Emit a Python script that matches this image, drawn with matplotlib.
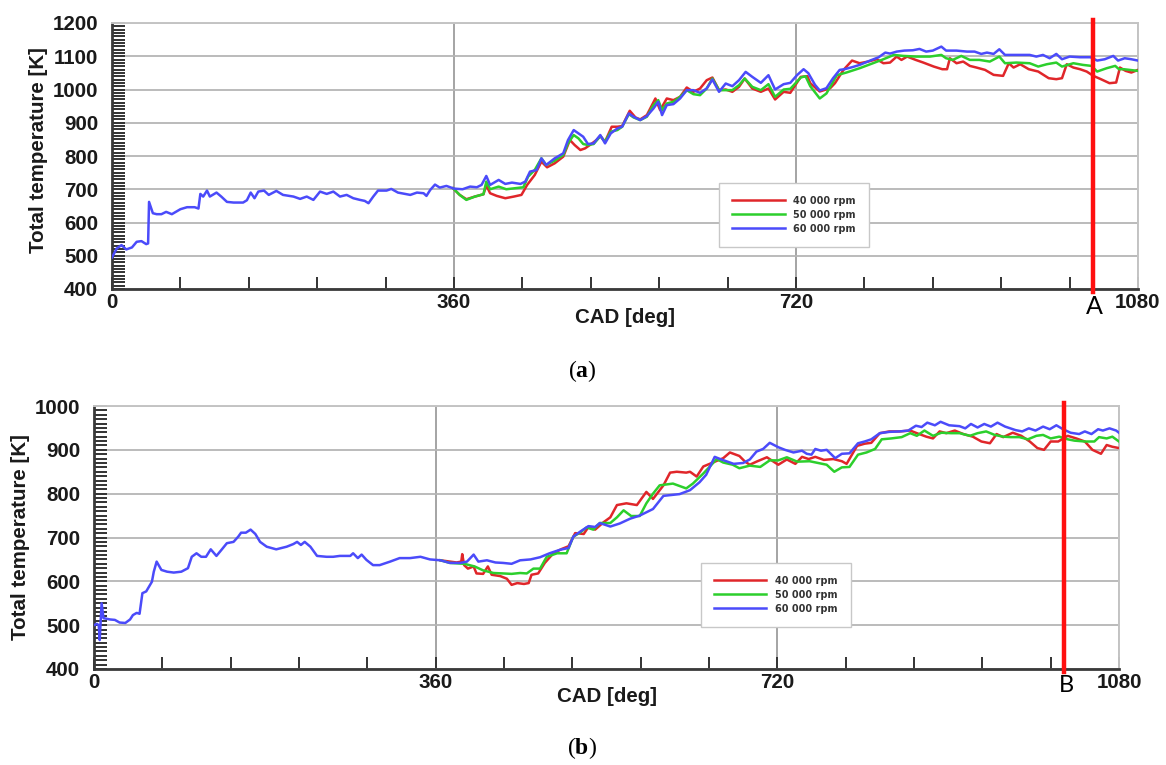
import matplotlib
matplotlib.use("Agg")
import matplotlib.pyplot as plt
from matplotlib.ticker import MultipleLocator, FixedLocator

plt.rcParams['mathtext.fontset'] = 'custom'
plt.rcParams['mathtext.rm'] = 'Liberation Serif'
plt.rcParams['mathtext.bf'] = 'Liberation Serif:bold'

# ---------------- data: panel (a) ----------------
a_blue_cad = [0, 5, 10, 15, 21, 26, 31, 36, 38, 39, 43, 47, 52, 57, 63, 72, 79, 87, 91, 93,
              96, 100, 103, 110, 115, 121, 128, 138, 142, 146, 150, 154, 160, 165, 173, 180,
              191, 198, 205, 212, 219, 226, 233, 240, 247, 254, 261, 266, 270, 275, 280, 289,
              294, 301, 310, 314, 321, 328, 331, 335, 340, 345, 352, 360, 369, 377, 384, 389,
              394, 398, 407, 414, 421, 430, 435, 440, 447, 452, 457, 466, 475, 480, 486, 491,
              496, 501, 507, 514, 519, 525, 532, 537, 544, 549, 556, 563, 570, 575, 579, 584,
              591, 598, 605, 612, 619, 626, 632, 639, 646, 653, 660, 667, 674, 683, 691, 698,
              707, 714, 721, 728, 733, 740, 745, 752, 759, 766, 771, 779, 787, 798, 807, 814,
              819, 826, 834, 843, 850, 857, 864, 873, 878, 889, 900, 908, 915, 921, 928, 934,
              940, 949, 959, 966, 973, 980, 987, 994, 1000, 1008, 1019, 1030, 1037, 1045, 1054,
              1059, 1066, 1073, 1080]
a_blue_temp = [495, 522, 532, 519, 525, 542, 544, 535, 537, 662, 628, 625, 625, 632, 625, 640,
               646, 646, 642, 686, 678, 696, 678, 690, 678, 662, 660, 660, 667, 690, 673, 693,
               696, 683, 695, 683, 678, 671, 678, 668, 693, 686, 693, 678, 683, 673, 668, 665,
               658, 678, 696, 696, 701, 690, 685, 683, 690, 688, 680, 698, 714, 705, 710, 702,
               700, 708, 706, 713, 740, 713, 728, 716, 720, 716, 723, 753, 758, 793, 773, 793,
               808, 848, 878, 868, 858, 836, 838, 863, 838, 868, 883, 888, 928, 918, 908, 920,
               943, 963, 923, 953, 956, 973, 998, 998, 990, 1003, 1030, 993, 1018, 1010, 1028,
               1053, 1038, 1020, 1043, 1000, 1016, 1020, 1043, 1061, 1049, 1014, 997, 1004, 1034,
               1059, 1061, 1067, 1074, 1087, 1097, 1111, 1108, 1114, 1117, 1118, 1122, 1114, 1117,
               1129, 1117, 1117, 1114, 1114, 1107, 1111, 1107, 1121, 1104, 1104, 1104, 1104, 1099,
               1104, 1094, 1107, 1091, 1099, 1097, 1097, 1087, 1091, 1101, 1087, 1094, 1091, 1087]

a_green_cad = [359, 366, 373, 382, 391, 394, 398, 407, 415, 424, 433, 438, 445, 452, 457, 466,
               475, 480, 486, 491, 496, 501, 507, 514, 519, 525, 532, 537, 544, 549, 556, 563,
               570, 575, 579, 584, 591, 598, 605, 612, 619, 626, 632, 639, 646, 653, 660, 666,
               674, 683, 691, 698, 707, 714, 725, 730, 735, 745, 752, 763, 773, 787, 801, 812,
               823, 833, 847, 861, 873, 878, 885, 894, 903, 913, 924, 934, 940, 952, 966, 975,
               984, 994, 1000, 1012, 1022, 1031, 1037, 1047, 1056, 1060, 1065, 1080]
a_green_temp = [703, 683, 668, 678, 685, 723, 700, 708, 700, 703, 706, 738, 758, 793, 773, 786,
                803, 838, 863, 853, 836, 833, 836, 860, 843, 873, 878, 888, 926, 916, 908, 918,
                953, 968, 938, 958, 963, 978, 998, 986, 983, 1003, 1033, 998, 998, 998, 1013, 1033,
                1008, 998, 1016, 978, 1000, 1002, 1036, 1040, 1010, 973, 988, 1043, 1051, 1064,
                1079, 1091, 1104, 1101, 1099, 1099, 1104, 1094, 1089, 1101, 1089, 1089, 1084, 1099,
                1079, 1081, 1079, 1069, 1076, 1081, 1069, 1079, 1074, 1071, 1054, 1064, 1071, 1061,
                1061, 1056]

a_red_cad = [359, 366, 373, 382, 391, 394, 398, 405, 414, 423, 431, 437, 445, 452, 458, 466,
             475, 482, 487, 493, 498, 503, 510, 514, 519, 526, 532, 537, 545, 551, 556, 563,
             572, 577, 584, 591, 598, 605, 612, 619, 626, 632, 639, 646, 653, 660, 666, 674,
             683, 691, 698, 707, 714, 725, 732, 735, 745, 756, 761, 770, 779, 787, 796, 805,
             812, 819, 826, 831, 837, 846, 854, 865, 874, 879, 882, 889, 896, 903, 910, 919,
             928, 938, 944, 949, 956, 965, 975, 986, 994, 1000, 1005, 1012, 1019, 1026, 1033,
             1041, 1050, 1057, 1061, 1067, 1073, 1080]
a_red_temp = [703, 683, 670, 678, 685, 712, 688, 680, 673, 678, 683, 713, 743, 783, 766, 778,
              798, 848, 833, 818, 823, 833, 848, 860, 843, 888, 888, 890, 936, 916, 910, 923,
              973, 938, 973, 968, 978, 1006, 993, 1003, 1028, 1036, 998, 1000, 993, 1008, 1033,
              1003, 993, 1003, 970, 993, 990, 1038, 1040, 1019, 994, 1004, 1019, 1059, 1087,
              1079, 1084, 1091, 1079, 1081, 1099, 1089, 1099, 1089, 1081, 1069, 1061, 1061, 1094,
              1079, 1084, 1071, 1066, 1059, 1044, 1041, 1079, 1066, 1076, 1061, 1054, 1034, 1031,
              1034, 1076, 1066, 1061, 1054, 1041, 1031, 1019, 1021, 1066, 1056, 1051, 1059]

# ---------------- data: panel (b) ----------------
b_blue_cad = [0, 3, 5, 6, 8, 10, 17, 22, 27, 33, 38, 41, 45, 48, 51, 55, 61, 63, 66, 71, 77,
              84, 92, 99, 103, 108, 113, 118, 123, 129, 134, 140, 147, 152, 155, 160, 165, 170,
              175, 182, 192, 203, 210, 214, 218, 222, 228, 235, 245, 252, 259, 270, 273, 278,
              282, 287, 294, 301, 312, 322, 333, 344, 354, 365, 375, 386, 393, 400, 405, 414,
              423, 431, 440, 449, 460, 470, 480, 491, 500, 505, 512, 521, 528, 533, 544, 554,
              565, 575, 589, 600, 617, 628, 638, 645, 654, 661, 674, 684, 691, 698, 705, 712,
              721, 728, 737, 746, 751, 756, 760, 766, 772, 781, 788, 796, 805, 812, 819, 828,
              838, 849, 858, 866, 872, 878, 886, 892, 901, 912, 918, 924, 931, 938, 945, 952,
              960, 971, 978, 985, 992, 1000, 1007, 1014, 1021, 1029, 1038, 1044, 1051, 1058,
              1063, 1070, 1077, 1080]
b_blue_temp = [500, 503, 500, 466, 550, 516, 513, 512, 506, 505, 513, 523, 528, 526, 573, 577,
               599, 622, 645, 626, 622, 620, 622, 630, 656, 664, 656, 656, 673, 658, 671, 687,
               690, 702, 711, 711, 718, 708, 690, 679, 673, 679, 685, 690, 683, 690, 679, 658,
               656, 656, 658, 658, 664, 653, 661, 649, 637, 637, 645, 653, 653, 656, 650, 648,
               642, 642, 645, 661, 645, 648, 643, 642, 640, 648, 650, 655, 664, 672, 676, 702,
               713, 726, 724, 733, 725, 732, 743, 750, 765, 795, 799, 808, 826, 843, 884, 878,
               868, 870, 878, 896, 902, 916, 906, 900, 894, 898, 891, 889, 902, 898, 900, 881,
               891, 892, 915, 919, 924, 938, 941, 942, 944, 955, 952, 962, 956, 964, 956, 954,
               949, 959, 951, 959, 953, 962, 953, 945, 942, 949, 944, 953, 947, 956, 947, 939,
               936, 942, 936, 947, 944, 949, 944, 939]

b_green_cad = [365, 375, 390, 401, 410, 421, 431, 440, 449, 456, 463, 470, 477, 488, 498, 505,
               512, 519, 526, 533, 544, 551, 558, 566, 575, 582, 589, 596, 610, 624, 631, 642,
               649, 656, 663, 673, 680, 691, 702, 712, 721, 730, 741, 754, 772, 780, 788, 796,
               805, 814, 823, 830, 840, 851, 860, 867, 875, 884, 893, 903, 912, 923, 931, 940,
               949, 958, 966, 975, 984, 993, 1000, 1008, 1017, 1026, 1033, 1044, 1054, 1059,
               1067, 1073, 1080]
b_green_temp = [648, 642, 640, 634, 625, 619, 618, 617, 619, 618, 629, 629, 656, 664, 664, 702,
                711, 723, 718, 733, 733, 746, 762, 749, 749, 778, 800, 819, 823, 812, 823, 846,
                862, 879, 871, 866, 858, 864, 861, 876, 876, 883, 873, 874, 866, 850, 860, 861,
                889, 894, 902, 924, 926, 929, 938, 932, 944, 932, 939, 938, 938, 932, 938, 942,
                934, 930, 929, 929, 924, 932, 934, 926, 930, 924, 921, 919, 919, 929, 926, 930,
                919]

b_red_cad = [365, 382, 387, 388, 390, 394, 400, 403, 410, 415, 419, 428, 435, 440, 446, 453,
             458, 461, 468, 475, 484, 493, 500, 507, 516, 521, 528, 537, 544, 551, 561, 572,
             582, 589, 600, 607, 614, 624, 628, 635, 642, 652, 663, 670, 680, 686, 691, 698,
             709, 721, 730, 739, 746, 753, 760, 769, 779, 788, 793, 804, 812, 819, 828, 838,
             849, 860, 867, 877, 884, 891, 898, 907, 916, 926, 935, 944, 951, 958, 968, 977,
             986, 994, 1001, 1008, 1016, 1026, 1035, 1044, 1052, 1061, 1067, 1073, 1080]
b_red_temp = [648, 643, 645, 662, 637, 629, 634, 618, 617, 634, 615, 612, 606, 592, 596, 594,
              596, 615, 618, 642, 664, 674, 680, 710, 708, 724, 718, 735, 746, 774, 778, 774,
              804, 788, 819, 848, 850, 848, 850, 839, 862, 871, 881, 894, 886, 873, 866, 873,
              883, 866, 878, 868, 884, 879, 884, 877, 879, 874, 868, 909, 914, 916, 938, 942,
              942, 944, 938, 930, 926, 942, 938, 944, 936, 930, 919, 915, 936, 929, 939, 932,
              919, 904, 900, 919, 919, 932, 926, 919, 900, 891, 911, 907, 904]

series_labels = ['40 000 rpm', '50 000 rpm', '60 000 rpm']
series_colors = ['#e0262a', '#2ccf2c', '#4b4bfa']
x_major = [0, 360, 720, 1080]
marker_a = 1033
marker_b = 1022

W, H = 1166, 765
fig = plt.figure(figsize=(W / 100, H / 100), dpi=100)


def px_axes(left, top, right, bottom):
    return fig.add_axes([left / W, 1 - bottom / H, (right - left) / W, (bottom - top) / H])


def style_axes(ax, ymax):
    ax.set_xlim(0, 1080)
    ax.set_ylim(400, ymax)
    ax.xaxis.set_major_locator(FixedLocator(x_major))
    ax.xaxis.set_minor_locator(MultipleLocator(72))
    ax.yaxis.set_major_locator(MultipleLocator(100))
    ax.yaxis.set_minor_locator(MultipleLocator(10))
    ax.tick_params(axis='both', which='both', direction='in', length=9, width=1.4,
                   color='#333333', top=False, right=False)
    ax.tick_params(axis='y', which='major', pad=10)
    ax.tick_params(axis='x', which='major', pad=3)
    ax.tick_params(labelsize=14.8, labelcolor='#1a1a1a')
    for lab in ax.get_xticklabels() + ax.get_yticklabels():
        lab.set_fontfamily('Liberation Sans')
        lab.set_fontweight('bold')
    ax.grid(axis='y', which='major', color='#b5b5b5', linewidth=1.3)
    ax.grid(axis='x', which='major', color='#8c8c8c', linewidth=1.1)
    for s in ('left', 'bottom'):
        ax.spines[s].set_color('#3a3a3a')
        ax.spines[s].set_linewidth(2)
    for s in ('top', 'right'):
        ax.spines[s].set_color('#c4c4c4')
        ax.spines[s].set_linewidth(1.4)
    ax.set_axisbelow(True)


def draw_panel(ax, red, green, blue, marker, ymax, legend_xy):
    style_axes(ax, ymax)
    hs = []
    for (cad, temp), col, lab in zip([red, green, blue], series_colors, series_labels):
        h, = ax.plot(cad, temp, color=col, lw=1.8, label=lab, zorder=3,
                     solid_joinstyle='round')
        hs.append(h)
    ax.axvline(marker, ymin=-0.01, ymax=1.012, color='#ff1010', lw=3.2, zorder=5, clip_on=False)
    leg = ax.legend(handles=hs, loc='upper left', bbox_to_anchor=legend_xy, borderaxespad=0,
                    prop={'family': 'DejaVu Sans', 'weight': 'bold', 'size': 7},
                    handlelength=5.4, handletextpad=0.9, borderpad=1.35, labelspacing=0.4,
                    fancybox=False, framealpha=1, edgecolor='#c8c8c8')
    leg.get_frame().set_linewidth(1.0)
    for t in leg.get_texts():
        t.set_color('#333333')
    return ax


label_style = dict(fontsize=14.8, fontweight='bold', family='Liberation Sans', color='#1a1a1a')

# panel (a)
ax1 = px_axes(112, 23, 1138, 289)
draw_panel(ax1, (a_red_cad, a_red_temp), (a_green_cad, a_green_temp),
           (a_blue_cad, a_blue_temp), marker_a, 1200, (0.5916, 0.40))
fig.text(39 / W, 1 - 150 / H, 'Total temperature [K]', rotation=90, ha='center', va='center',
         **label_style)
fig.text(625 / W, 1 - 317 / H, 'CAD [deg]', ha='center', va='center', **label_style)
fig.text(1094 / W, 1 - 307 / H, 'A', ha='center', va='center', fontsize=18,
         family='Lato', color='black')
fig.text(582 / W, 1 - 371 / H, r'($\mathbf{a}$)', ha='center', va='center', fontsize=17,
         family='Liberation Serif')

# panel (b)
ax2 = px_axes(94, 406, 1119, 669)
draw_panel(ax2, (b_red_cad, b_red_temp), (b_green_cad, b_green_temp),
           (b_blue_cad, b_blue_temp), marker_b, 1000, (0.5919, 0.404))
fig.text(21 / W, 1 - 537 / H, 'Total temperature [K]', rotation=90, ha='center', va='center',
         **label_style)
fig.text(607 / W, 1 - 696 / H, 'CAD [deg]', ha='center', va='center', **label_style)
fig.text(1066 / W, 1 - 685 / H, 'B', ha='center', va='center', fontsize=17,
         family='Lato', color='black')
fig.text(582 / W, 1 - 748 / H, r'($\mathbf{b}$)', ha='center', va='center', fontsize=17,
         family='Liberation Serif')

fig.savefig('out.png', dpi=100)
